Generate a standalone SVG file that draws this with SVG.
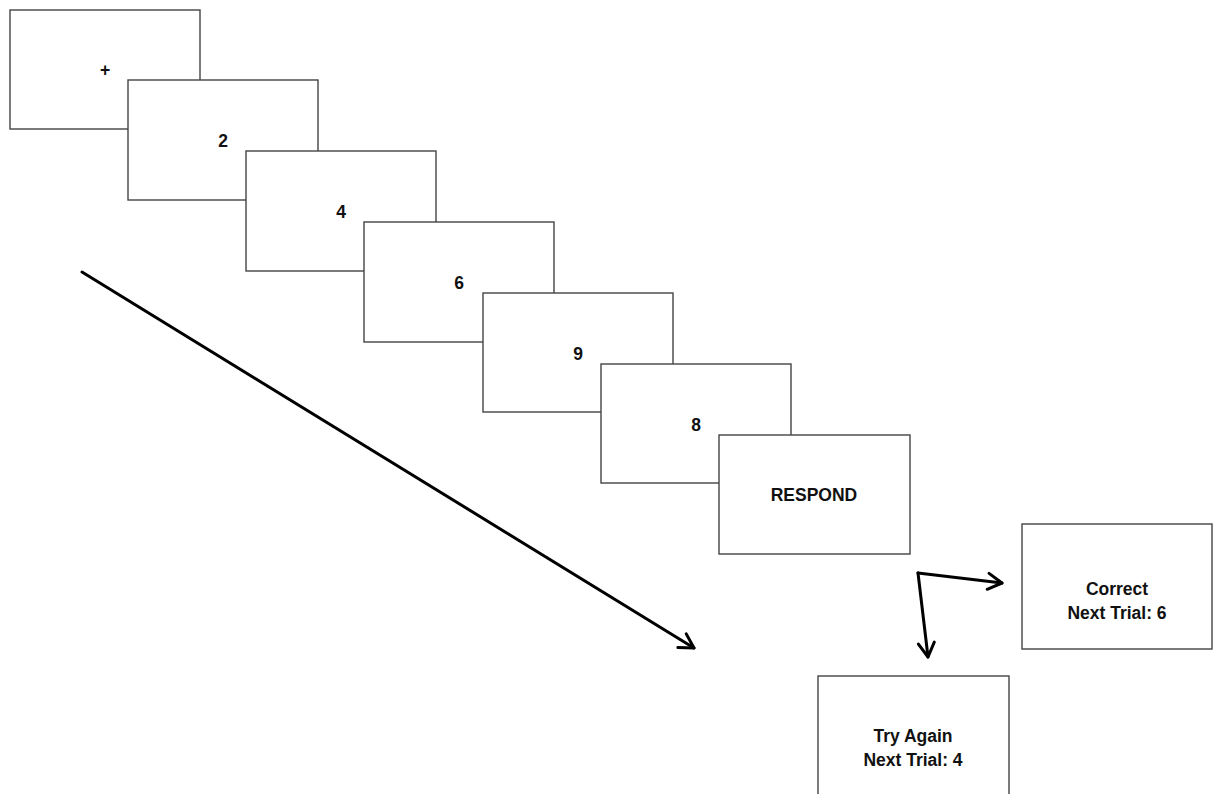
<svg xmlns="http://www.w3.org/2000/svg" width="1218" height="794" viewBox="0 0 1218 794">
<style>
.box rect{fill:#fff;stroke:#444;stroke-width:1.4}
.lbl{font-family:"Liberation Sans",Arial,sans-serif;font-weight:bold;font-size:17.5px;fill:#111;text-anchor:middle}
.conn path{fill:none;stroke:#000;stroke-width:3;stroke-linecap:round;stroke-linejoin:round}
</style>
<defs>
<marker id="chev" markerUnits="userSpaceOnUse" markerWidth="30" markerHeight="30" viewBox="-20 -15 30 30" refX="0" refY="0" orient="auto">
<path d="M-14,-8 L0,0 L-14,8" fill="none" stroke="#000" stroke-width="3" stroke-linecap="round" stroke-linejoin="round"/>
</marker>
</defs>
<rect width="1218" height="794" fill="#fff"/>
<g id="fixation" class="box"><rect x="10" y="10" width="190" height="119"/><text class="lbl" x="105" y="76">+</text></g>
<g id="digit2" class="box"><rect x="128" y="80" width="190" height="120"/><text class="lbl" x="223" y="147">2</text></g>
<g id="digit4" class="box"><rect x="246" y="151" width="190" height="120"/><text class="lbl" x="341" y="218">4</text></g>
<g id="digit6" class="box"><rect x="364" y="222" width="190" height="120"/><text class="lbl" x="459" y="289">6</text></g>
<g id="digit9" class="box"><rect x="483" y="293" width="190" height="119"/><text class="lbl" x="578" y="360">9</text></g>
<g id="digit8" class="box"><rect x="601" y="364" width="190" height="119"/><text class="lbl" x="696" y="431">8</text></g>
<g id="respond" class="box"><rect x="719" y="435" width="191" height="119"/><text class="lbl" x="814" y="501">RESPOND</text></g>
<g id="correct" class="box"><rect x="1022" y="524" width="190" height="125"/><text class="lbl" x="1117" y="595">Correct</text><text class="lbl" x="1117" y="619">Next Trial: 6</text></g>
<g id="tryagain" class="box"><rect x="818" y="676" width="191" height="130"/><text class="lbl" x="913" y="742">Try Again</text><text class="lbl" x="913" y="766">Next Trial: 4</text></g>
<g id="connectors" class="conn">
<path d="M82,272 L694,648" marker-end="url(#chev)"/>
<path d="M918,573 L1002,583" marker-end="url(#chev)"/>
<path d="M918,573 L928,657" marker-end="url(#chev)"/>
</g>
</svg>
